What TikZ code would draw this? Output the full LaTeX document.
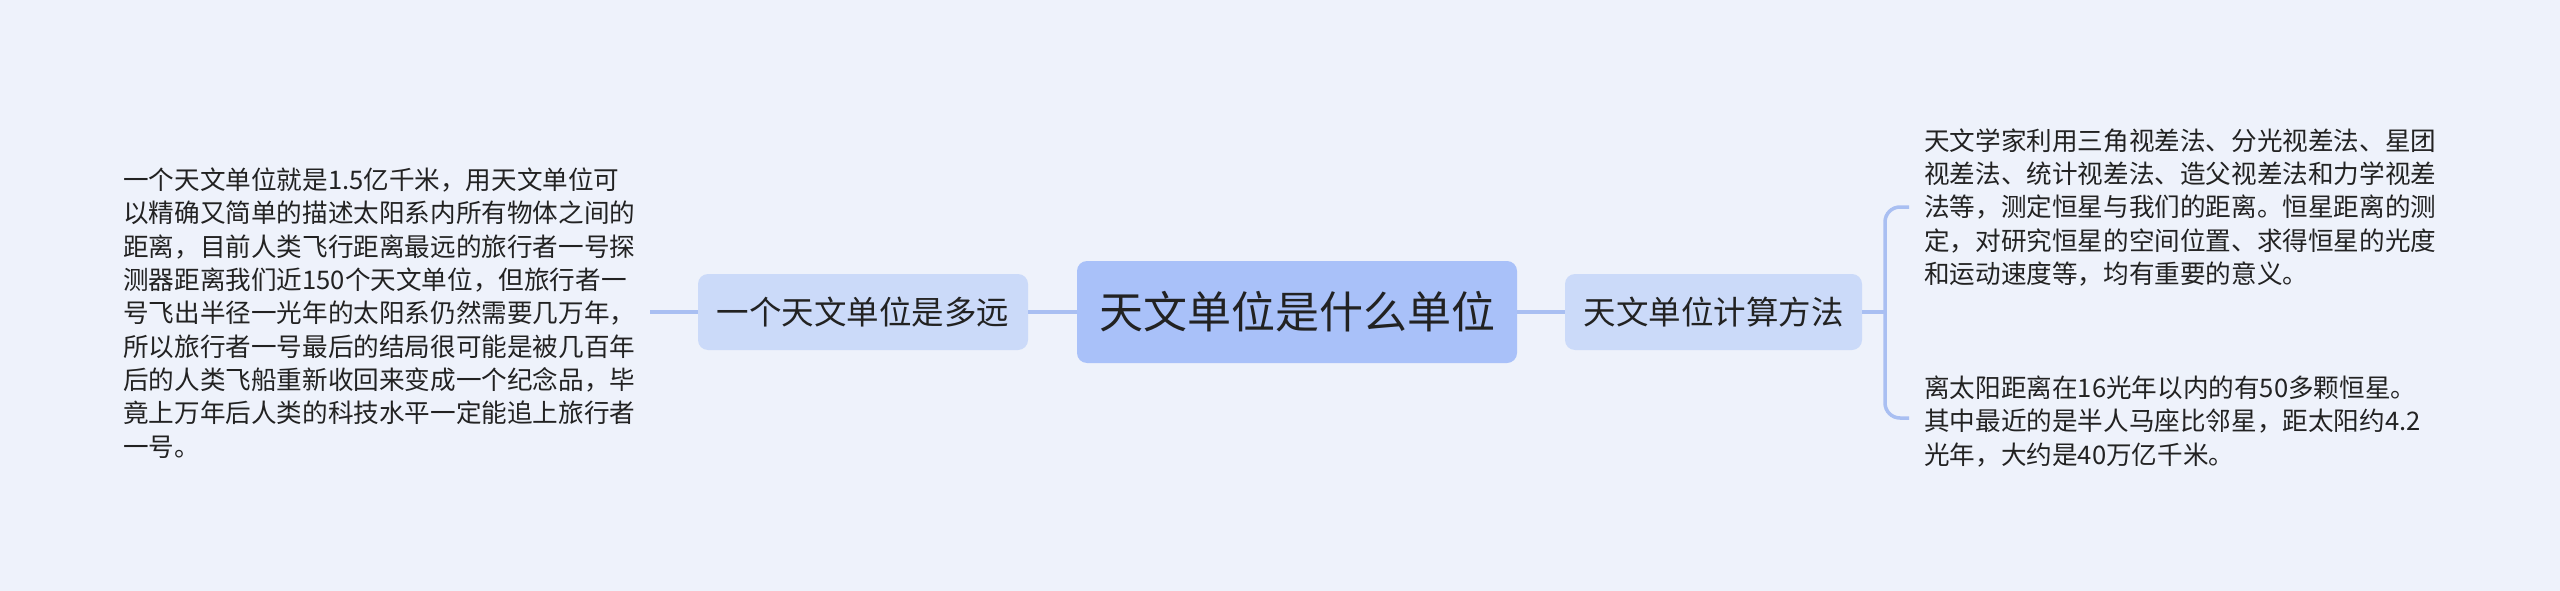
\documentclass[tikz,border=0pt]{standalone}
\usepackage{fontspec}
\setmainfont{Noto Sans CJK SC}
\definecolor{bgc}{HTML}{EEF2FB}
\definecolor{rootc}{HTML}{A9C1F9}
\definecolor{subc}{HTML}{CBDAF9}
\definecolor{connc}{HTML}{A9BFF2}
\definecolor{txtc}{HTML}{222222}
\begin{document}
\begin{tikzpicture}[x=1pt,y=-1pt,
  rootbox/.style={fill=rootc, rounded corners=10pt, minimum width=440pt, minimum height=102pt, inner sep=0pt, text=txtc, font=\fontsize{44pt}{52pt}\selectfont},
  subbox/.style={fill=subc, rounded corners=10pt, minimum height=76pt, inner sep=0pt, text=txtc, font=\fontsize{32.5pt}{40pt}\selectfont},
  bodytext/.style={inner sep=0pt, align=left, text=txtc, font=\fontsize{25.6pt}{33.3pt}\selectfont},
  conn/.style={draw=connc, line width=3.5pt}
]
\fill[bgc] (0,0) rectangle (2560,591);
\useasboundingbox (0,0) rectangle (2560,591);

\node[rootbox] (root) at (1297,312) {天文单位是什么单位};
\node[subbox, minimum width=330pt] (left) at (863,312) {一个天文单位是多远};
\node[subbox, minimum width=297pt] (right) at (1713.5,312) {天文单位计算方法};

\node[bodytext, anchor=west] (ltext) at (123,313) {一个天文单位就是1.5亿千米，用天文单位可\\以精确又简单的描述太阳系内所有物体之间的\\距离，目前人类飞行距离最远的旅行者一号探\\测器距离我们近150个天文单位，但旅行者一\\号飞出半径一光年的太阳系仍然需要几万年，\\所以旅行者一号最后的结局很可能是被几百年\\后的人类飞船重新收回来变成一个纪念品，毕\\竟上万年后人类的科技水平一定能追上旅行者\\一号。};

\node[bodytext, anchor=west] (rtext1) at (1924,207.5) {天文学家利用三角视差法、分光视差法、星团\\视差法、统计视差法、造父视差法和力学视差\\法等，测定恒星与我们的距离。恒星距离的测\\定，对研究恒星的空间位置、求得恒星的光度\\和运动速度等，均有重要的意义。};

\node[bodytext, anchor=west] (rtext2) at (1924,421.5) {离太阳距离在16光年以内的有50多颗恒星。\\其中最近的是半人马座比邻星，距太阳约4.2\\光年，大约是40万亿千米。};

\coordinate (lend) at (650,312);
\coordinate (bj) at (1885,312);
\coordinate (bt) at (1885,207);
\coordinate (bb) at (1885,418);
\coordinate (k1) at (1909,207);
\coordinate (k2) at (1909,418);

\draw[conn] (root.west) -- (left.east);
\draw[conn] (left.west) -- (lend);
\draw[conn] (root.east) -- (right.west);
\draw[conn] (right.east) -- (bj);
\draw[conn, rounded corners=15pt] (k1) -- (bt) -- (bb) -- (k2);
\end{tikzpicture}
\end{document}
